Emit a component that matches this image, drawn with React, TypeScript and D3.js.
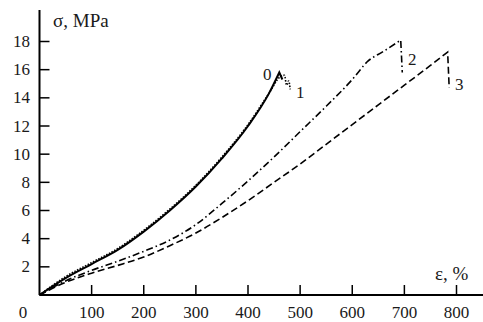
import React from 'react';
import * as d3 from 'd3';

// strain (%), stress (MPa)
const curve0: [number, number][] = [
  [0, 0], [50, 1.2], [100, 2.2], [150, 3.2], [200, 4.5], [250, 6.0], [300, 7.7],
  [350, 9.7], [400, 12.0], [440, 14.3], [460, 15.8], [466, 15.3],
];
const curve1: [number, number][] = [
  [0, 0], [50, 1.3], [100, 2.3], [150, 3.3], [200, 4.6], [250, 6.1], [300, 7.8],
  [350, 9.8], [400, 12.1], [440, 14.3], [462, 15.5], [470, 15.6], [474, 14.9],
  [478, 15.2], [481, 14.6],
];
const curve2: [number, number][] = [
  [0, 0], [50, 1.0], [100, 1.75], [150, 2.4], [200, 3.1], [250, 3.9], [300, 5.0],
  [350, 6.5], [400, 8.1], [450, 9.8], [500, 11.6], [550, 13.4], [600, 15.3],
  [630, 16.6], [660, 17.3], [693, 18.1], [696, 15.8],
];
const curve3: [number, number][] = [
  [0, 0], [50, 0.9], [100, 1.55], [150, 2.1], [200, 2.7], [250, 3.5], [300, 4.4],
  [350, 5.5], [400, 6.7], [450, 8.0], [500, 9.3], [550, 10.7], [600, 12.1],
  [650, 13.5], [700, 14.9], [750, 16.3], [783, 17.25], [786, 14.7],
];
const curveNames = ['0', '1', '2', '3'];
const xTicks = [100, 200, 300, 400, 500, 600, 700, 800];
const yTicks = [2, 4, 6, 8, 10, 12, 14, 16, 18];

const W = 483;
const H = 322;

export default function App() {
  const x = d3.scaleLinear().domain([0, 800]).range([39.5, 456.5]);
  const y = d3.scaleLinear().domain([0, 18]).range([295, 41.5]);
  const line = d3.line<[number, number]>()
    .x(d => x(d[0]))
    .y(d => y(d[1]))
    .curve(d3.curveMonotoneX);
  const straight = d3.line<[number, number]>().x(d => x(d[0])).y(d => y(d[1]));

  // monotone curve up to the peak, straight for the final drop
  const path = (pts: [number, number][], dropFrom: number) => {
    const up = line(pts.slice(0, dropFrom + 1)) || '';
    const down = straight(pts.slice(dropFrom)) || '';
    return up + ' ' + down.replace(/^M[^L]*/, '');
  };

  const font = '"Liberation Serif", "DejaVu Serif", serif';
  const col = '#1a1a1a';

  const series = [
    { pts: curve0, drop: 10, dash: '', w: 2 },
    { pts: curve1, drop: 11, dash: '1.5 1.5', w: 1.6 },
    { pts: curve2, drop: 15, dash: '7 3 1.5 3', w: 1.6 },
    { pts: curve3, drop: 16, dash: '7 3.5', w: 1.6 },
  ];

  const labels = [
    { t: curveNames[0], x: 263, y: 80 },
    { t: curveNames[1], x: 296, y: 98 },
    { t: curveNames[2], x: 408, y: 65 },
    { t: curveNames[3], x: 455, y: 90 },
  ];

  return (
    <svg width={W} height={H} style={{ position: 'absolute', left: 0, top: 0, background: '#fff' }}>
      <g fill="none" stroke="#000">
        {series.map((s, i) => (
          <path
            key={i}
            d={i === 1 ? line(s.pts) || '' : path(s.pts, s.drop)}
            strokeWidth={s.w}
            strokeDasharray={s.dash || undefined}
          />
        ))}
      </g>

      {/* axes */}
      <line x1={39.5} x2={483} y1={295} y2={295} stroke="#000" strokeWidth={2} />
      <line x1={39.5} x2={39.5} y1={10} y2={295} stroke="#000" strokeWidth={2} />
      {xTicks.map(t => (
        <g key={t}>
          <line x1={x(t)} x2={x(t)} y1={295} y2={285} stroke="#000" strokeWidth={1.5} />
          <text x={x(t)} y={318} textAnchor="middle" fontFamily={font} fontSize={17} fill={col}>{t}</text>
        </g>
      ))}
      <text x={23} y={318} textAnchor="middle" fontFamily={font} fontSize={17} fill={col}>0</text>
      {yTicks.map(t => (
        <g key={t}>
          <line x1={39.5} x2={49.5} y1={y(t)} y2={y(t)} stroke="#000" strokeWidth={1.5} />
          <text x={30} y={y(t) + 5.5} textAnchor="end" fontFamily={font} fontSize={17} fill={col}>{t}</text>
        </g>
      ))}

      <text x={53} y={27} fontFamily={font} fontSize={19} fill={col}>σ, MPa</text>
      <text x={435} y={280} fontFamily={font} fontSize={19} fill={col}>ε, %</text>

      {labels.map(l => (
        <text key={l.t} x={l.x} y={l.y} fontFamily={font} fontSize={17} fill={col}>{l.t}</text>
      ))}
    </svg>
  );
}
